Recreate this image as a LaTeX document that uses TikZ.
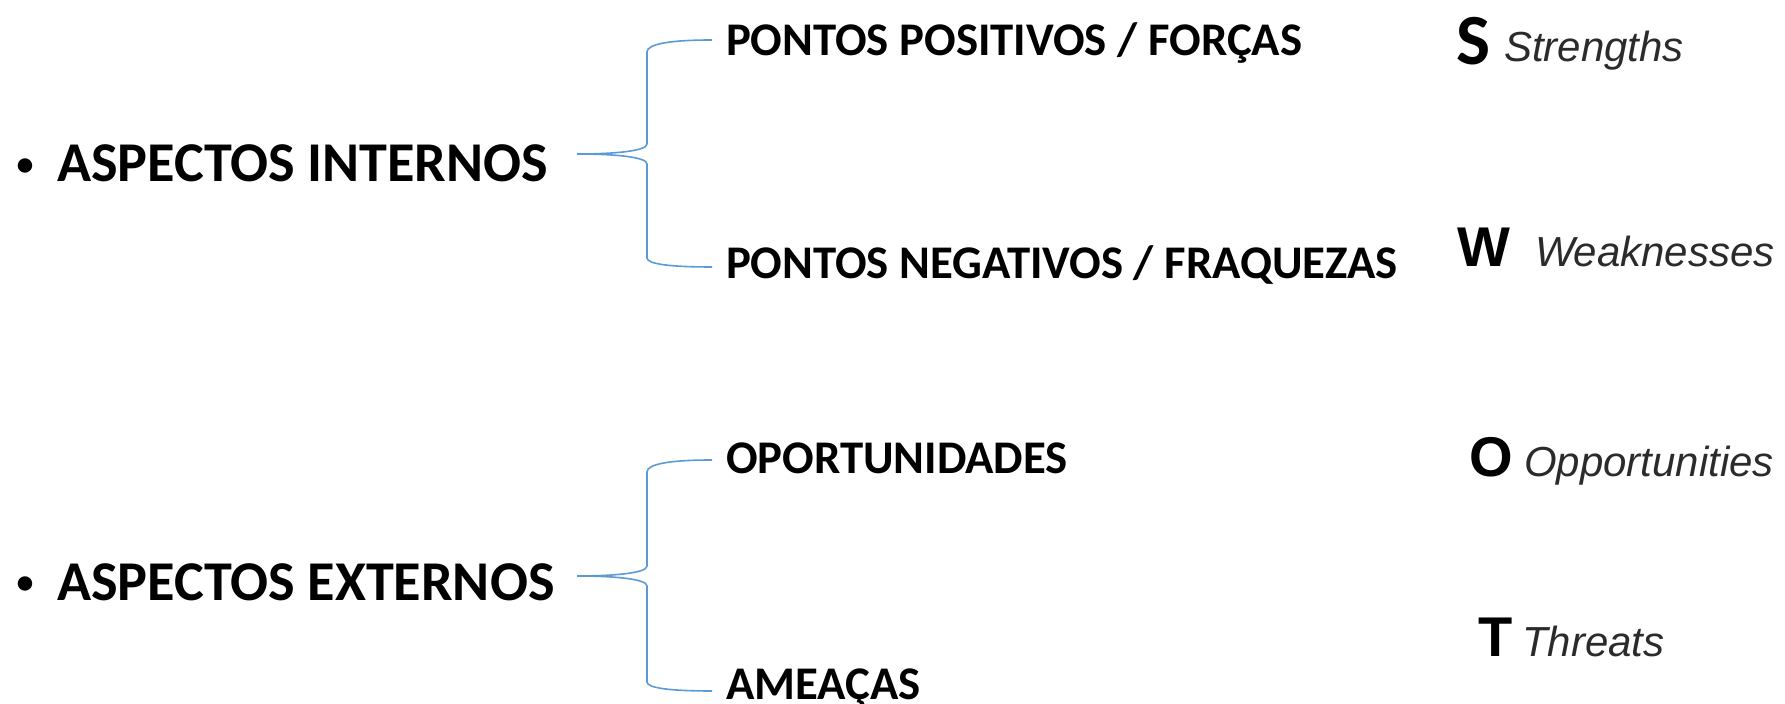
\documentclass[tikz,border=0pt]{standalone}
\usepackage{fontspec}
\usetikzlibrary{calc}
\setmainfont{Carlito}
\newfontfamily\helv{Liberation Sans}
\definecolor{bracecol}{HTML}{5B9BD5}
\definecolor{engcol}{HTML}{2B2B2B}
\begin{document}
\begin{tikzpicture}[x=0.5pt,y=-0.5pt,
  every node/.style={inner sep=0pt, outer sep=0pt},
  mainitem/.style={anchor=base west, font=\fontsize{28.1}{34}\selectfont\bfseries},
  bulletmark/.style={anchor=base, font=\fontsize{17}{20}\selectfont\bfseries},
  subitem/.style={anchor=base west, font=\fontsize{23.4}{28}\selectfont\bfseries},
  letterS/.style={anchor=base west, font=\fontsize{36}{40}\selectfont\bfseries},
  letterhv/.style={anchor=base west, font=\helv\fontsize{28}{32}\selectfont\bfseries},
  engword/.style={anchor=base west, text=engcol, font=\helv\fontsize{21}{25}\selectfont\itshape},
  bracepath/.style={draw=bracecol, line width=0.8pt}
]
\useasboundingbox (0,0) rectangle (1785,704);

% left column
\node[bulletmark] (b1) at (25,176) {•};
\node[mainitem] (ai) at (57,182) {ASPECTOS INTERNOS};
\node[bulletmark] (b2) at (25,594) {•};
\node[mainitem] (ae) at (57,601) {ASPECTOS EXTERNOS};

% middle column
\node[subitem] (pp) at (726,56) {PONTOS POSITIVOS / FORÇAS};
\node[subitem] (pn) at (726,279) {PONTOS NEGATIVOS / FRAQUEZAS};
\node[subitem] (op) at (726,474) {OPORTUNIDADES};
\node[subitem] (am) at (726,700) {AMEAÇAS};

% right column
\node[letterS] (s) at (1456,65) {S};
\node[engword] (st) at (1504,62) {Strengths};
\node[letterhv] (w) at (1457,267) {W};
\node[engword] (wk) at (1535,267) {Weaknesses};
\node[letterhv] (o) at (1469,477) {O};
\node[engword] (opp) at (1524,477) {Opportunities};
\node[letterhv] (t) at (1478,657) {T};
\node[engword] (th) at (1522,657) {Threats};

% brace coordinates
\coordinate (tip1) at (577,154);
\coordinate (top1) at (712,40);
\coordinate (bot1) at (712,267);
\coordinate (tip2) at (577,576);
\coordinate (top2) at (712,460);
\coordinate (bot2) at (712,691);

% braces
\draw[bracepath] (top1) .. controls ($(top1)+(-42,0)$) and (647,44) .. (647,52)
  -- (647,144) .. controls (647,151) and ($(tip1)+(38,0)$) .. (tip1)
  .. controls ($(tip1)+(38,0)$) and (647,157) .. (647,164)
  -- (647,258) .. controls (647,264) and ($(bot1)+(-42,0)$) .. (bot1);
\draw[bracepath] (top2) .. controls ($(top2)+(-42,0)$) and (647,464) .. (647,472)
  -- (647,566) .. controls (647,573) and ($(tip2)+(38,0)$) .. (tip2)
  .. controls ($(tip2)+(38,0)$) and (647,579) .. (647,586)
  -- (647,682) .. controls (647,688) and ($(bot2)+(-42,0)$) .. (bot2);
\end{tikzpicture}
\end{document}
